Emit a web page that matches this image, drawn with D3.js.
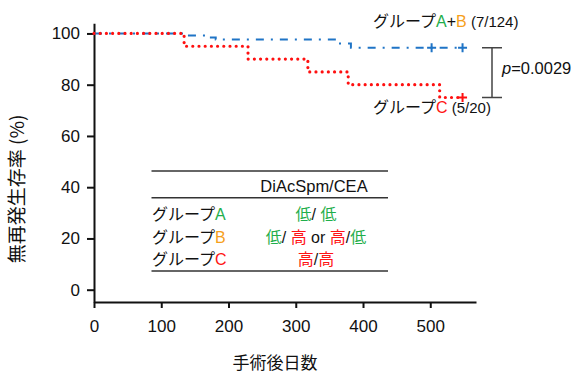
<!DOCTYPE html>
<html>
<head>
<meta charset="utf-8">
<script src="https://cdn.jsdelivr.net/npm/d3@7"></script>
<style>
  html, body { margin: 0; padding: 0; background: #fff; }
  svg { display: block; }
  text { font-family: "Liberation Sans", Arial, "Noto Sans CJK JP", sans-serif; fill: #111; }
  .jp { font-family: "Noto Sans CJK JP", "Liberation Sans", sans-serif; }
</style>
</head>
<body>
<svg id="chart" width="576" height="375"></svg>
<script>
// Kaplan–Meier step data (days after surgery, relapse-free survival %)
const groupABTimes = [0, 133, 165, 181, 360, 382, 548];
const groupABSurv  = [100, 99.2, 98.4, 97.6, 96.1, 94.4, 94.4];
const groupABCensor = [502, 548];

const groupCTimes = [0, 134, 229, 318, 378, 514, 548];
const groupCSurv  = [100, 95, 90, 85, 80, 75, 75];
const groupCCensor = [548];

const xTicks = [0, 100, 200, 300, 400, 500];
const yTicks = [0, 20, 40, 60, 80, 100];

const pValueLabel = "=0.0029";
const labelAB = [["グループ", "k"], ["A", "g"], ["+", "k"], ["B", "o"]];
const countAB = " (7/124)";
const labelC = [["グループ", "k"], ["C", "r"]];
const countC = " (5/20)";

const tableHeader = "DiAcSpm/CEA";
const tableRows = [
  { name: [["グループ", "k"], ["A", "g"]], value: [["低", "g"], ["/ ", "k"], ["低", "g"]] },
  { name: [["グループ", "k"], ["B", "o"]], value: [["低", "g"], ["/ ", "k"], ["高", "r"], [" or ", "k"], ["高", "r"], ["/", "k"], ["低", "g"]] },
  { name: [["グループ", "k"], ["C", "r"]], value: [["高", "r"], ["/", "k"], ["高", "r"]] }
];

const colors = { k: "#111", g: "#1fae4b", o: "#f6a01a", r: "#ff1414" };
const blue = "#1f74c6";
const red = "#ff1010";

const svg = d3.select("#chart");

const x = d3.scaleLinear().domain([0, 568]).range([94, 476]);
const y = d3.scaleLinear().domain([-4.8, 104]).range([302, 23.2]);

// axes
const xAxis = svg.append("g")
  .attr("transform", "translate(0,302)")
  .call(d3.axisBottom(x).tickValues(xTicks).tickSize(6).tickSizeOuter(0).tickPadding(12));
const yAxis = svg.append("g")
  .attr("transform", "translate(94,0)")
  .call(d3.axisLeft(y).tickValues(yTicks).tickSize(7).tickSizeOuter(0).tickPadding(7));

[xAxis, yAxis].forEach(g => {
  g.selectAll("path, line").attr("stroke", "#111").attr("stroke-width", 2);
  g.selectAll("text").attr("font-size", 17).attr("fill", "#111")
    .attr("font-family", "'Liberation Sans', Arial, sans-serif");
});

// axis titles
svg.append("text").attr("class", "jp")
  .attr("x", 275).attr("y", 369)
  .attr("text-anchor", "middle").attr("font-size", 17)
  .text("手術後日数");
svg.append("text").attr("class", "jp")
  .attr("transform", "translate(24,189) rotate(-90)")
  .attr("text-anchor", "middle").attr("font-size", 19)
  .text("無再発生存率  (%)");

// survival curves
const line = d3.line()
  .x(d => x(d[0]))
  .y(d => y(d[1]))
  .curve(d3.curveStepAfter);

svg.append("path")
  .datum(d3.zip(groupABTimes, groupABSurv))
  .attr("d", line)
  .attr("fill", "none")
  .attr("stroke", blue)
  .attr("stroke-width", 2)
  .attr("stroke-dasharray", "8,7,2,7");

svg.append("path")
  .datum(d3.zip(groupCTimes, groupCSurv))
  .attr("d", line)
  .attr("fill", "none")
  .attr("stroke", red)
  .attr("stroke-width", 3.2)
  .attr("stroke-linecap", "round")
  .attr("stroke-dasharray", "0,6.2");

// censor marks
function survAt(times, surv, t) {
  let v = surv[0];
  times.forEach((tt, i) => { if (tt <= t) v = surv[i]; });
  return v;
}
function plus(t, v, color) {
  const cx = x(t), cy = y(v), h = 4.5;
  svg.append("path")
    .attr("d", `M${cx - h},${cy}H${cx + h}M${cx},${cy - h}V${cy + h}`)
    .attr("stroke", color).attr("stroke-width", 2).attr("fill", "none");
}
groupABCensor.forEach(t => plus(t, survAt(groupABTimes, groupABSurv, t), blue));
groupCCensor.forEach(t => plus(t, survAt(groupCTimes, groupCSurv, t), red));

// group labels
function richText(parent, xPos, yPos, parts, size, anchor) {
  const t = parent.append("text")
    .attr("x", xPos).attr("y", yPos)
    .attr("font-size", size)
    .attr("text-anchor", anchor || "start");
  parts.forEach(([s, c]) => {
    t.append("tspan")
      .attr("fill", colors[c])
      .attr("font-family", /[\u3000-\u9fff\u30a0-\u30ff]/.test(s)
        ? "'Noto Sans CJK JP', sans-serif" : "'Liberation Sans', Arial, sans-serif")
      .text(s);
  });
  return t;
}
const tAB = richText(svg, 373, 27, labelAB, 16);
tAB.append("tspan").attr("font-size", 15).attr("fill", "#111").text(countAB);
const tC = richText(svg, 373, 113, labelC, 16);
tC.append("tspan").attr("font-size", 15).attr("fill", "#111").text(countC);

// p-value bracket
const yTop = y(survAt(groupABTimes, groupABSurv, 548));
const yBot = y(survAt(groupCTimes, groupCSurv, 548));
svg.append("path")
  .attr("d", `M482,${yTop}H502M492,${yTop}V${yBot}M482,${yBot}H502`)
  .attr("stroke", "#444").attr("stroke-width", 1.5).attr("fill", "none");
const pt = svg.append("text").attr("x", 502).attr("y", 74).attr("font-size", 16.5);
pt.append("tspan").attr("font-style", "italic").text("p");
pt.append("tspan").text(pValueLabel);

// legend table
const tbl = svg.append("g");
[171, 197.7, 271].forEach(ly => {
  tbl.append("line").attr("x1", 151.5).attr("x2", 388).attr("y1", ly).attr("y2", ly)
    .attr("stroke", "#333").attr("stroke-width", 1.5);
});
tbl.append("text").attr("x", 314).attr("y", 192).attr("text-anchor", "middle")
  .attr("font-size", 16.5).text(tableHeader);
const rowY = [219.5, 242.5, 265];
tableRows.forEach((r, i) => {
  richText(tbl, 152, rowY[i], r.name, 16);
  richText(tbl, 316, rowY[i], r.value, 16, "middle");
});
</script>
</body>
</html>
